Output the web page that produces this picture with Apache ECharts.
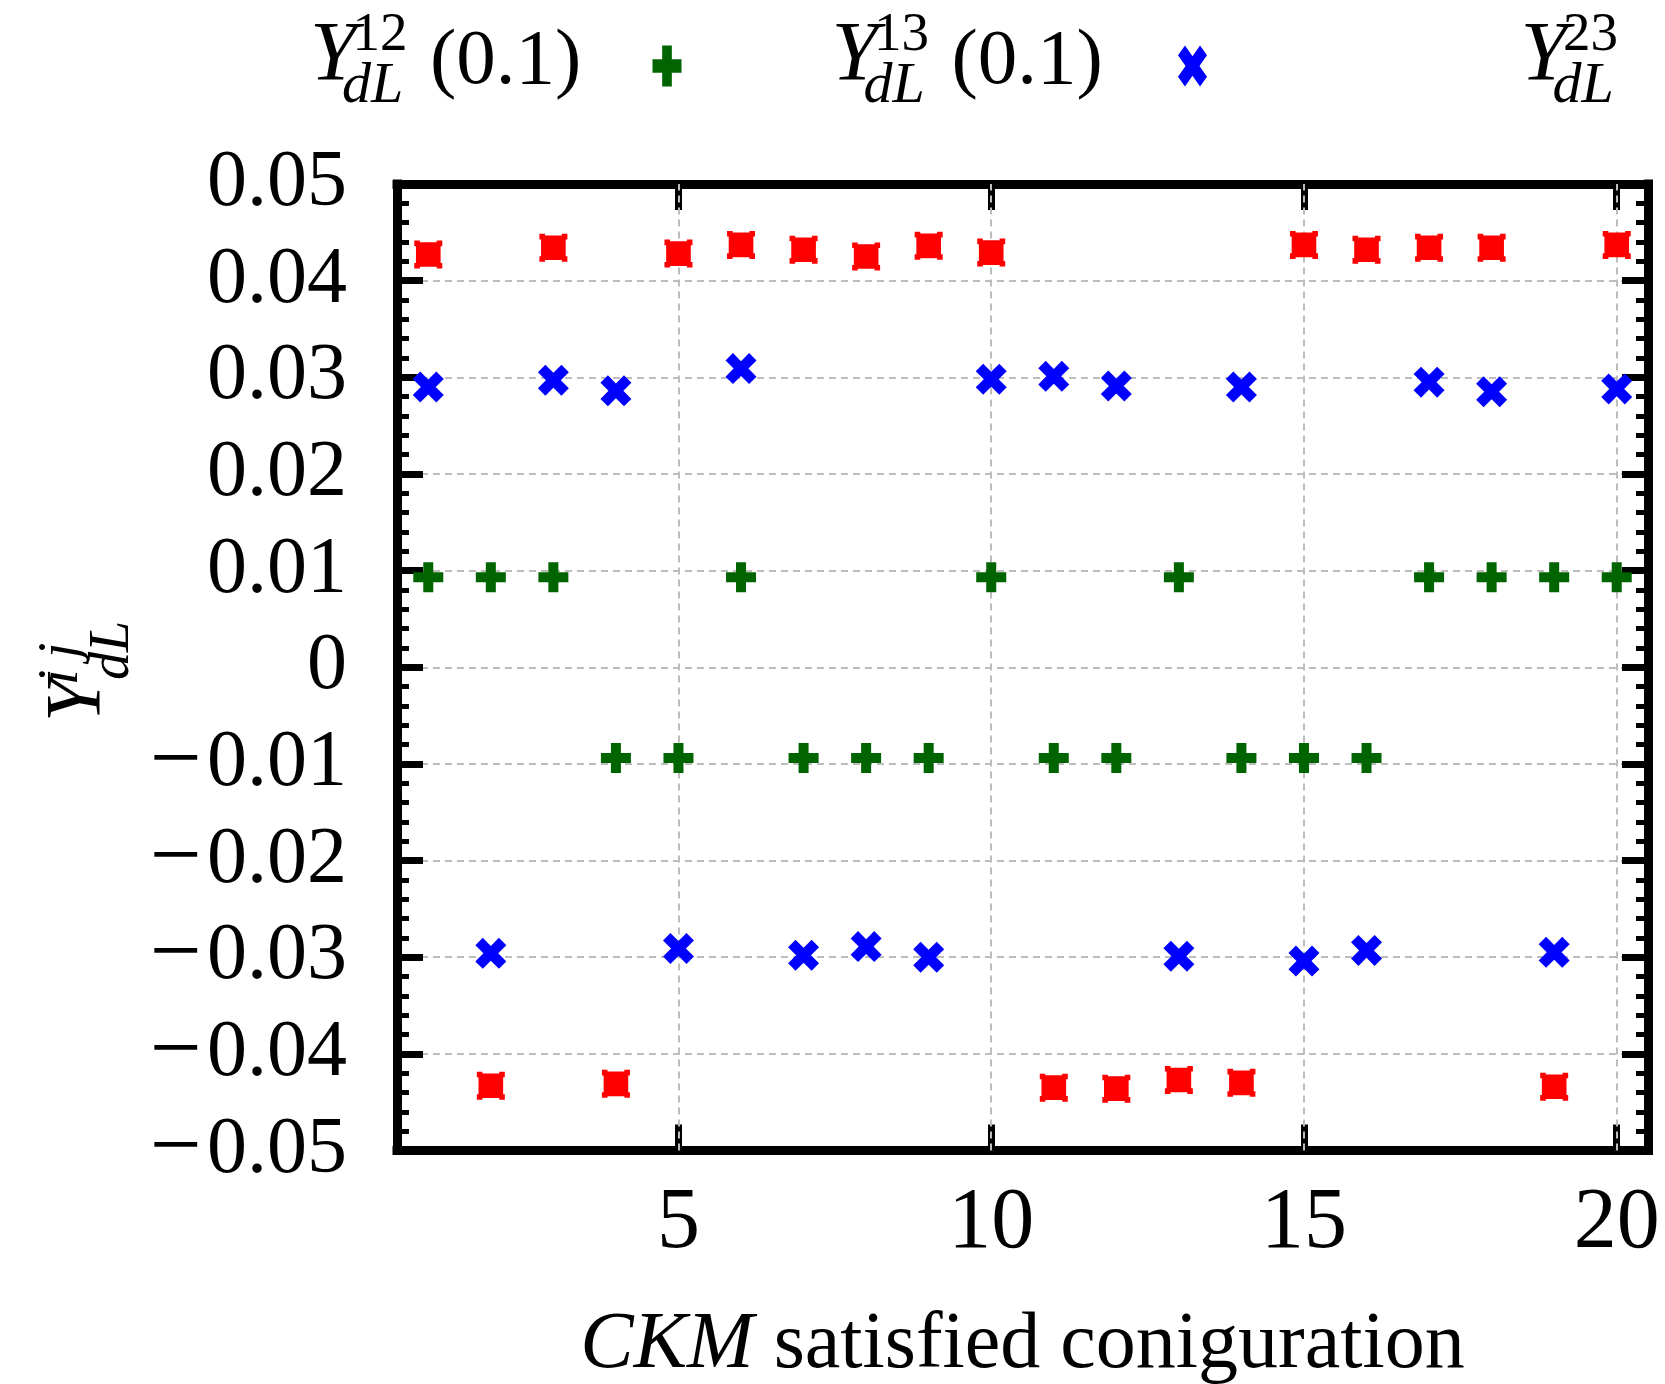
<!DOCTYPE html>
<html>
<head>
<meta charset="utf-8">
<script src="https://cdn.jsdelivr.net/npm/echarts@6/dist/echarts.min.js"></script>
<style>
html,body{margin:0;padding:0;background:#fff;}
#chart{width:1665px;height:1384px;}
</style>
</head>
<body>
<div id="chart"></div>
<script>
// ---- data ----
const configs = [1,2,3,4,5,6,7,8,9,10,11,12,13,14,15,16,17,18,19,20];
const y12 = [0.0093, 0.0093, 0.0093, -0.0094, -0.0094, 0.0093, -0.0094, -0.0094, -0.0094, 0.0093,
             -0.0094, -0.0094, 0.0093, -0.0094, -0.0094, -0.0094, 0.0093, 0.0093, 0.0093, 0.0093];
const y13 = [0.0290, -0.0296, 0.0297, 0.0286, -0.0291, 0.0309, -0.0298, -0.0289, -0.0300, 0.0298,
             0.0301, 0.0291, -0.0299, 0.0290, -0.0304, -0.0293, 0.0295, 0.0285, -0.0295, 0.0288];
const y23 = [0.0427, -0.0433, 0.0434, -0.0431, 0.0428, 0.0437, 0.0432, 0.0425, 0.0436, 0.0429,
             -0.0435, -0.0436, -0.0427, -0.0430, 0.0437, 0.0432, 0.0434, 0.0434, -0.0434, 0.0437];
const seriesNames = ['Y12 (0.1)', 'Y13 (0.1)', 'Y23'];
const xTickValues = [5, 10, 15, 20];
const xTickLabels = ['5', '10', '15', '20'];
const yMin = -0.05, yMax = 0.05, yStep = 0.01;

// ---- styling ----
const FF = "'Liberation Serif','DejaVu Serif',serif";
const GRID_COLOR = '#bdbdbd';
const PLUS = 'path://M3,0H6V3H9V6H6V9H3V6H0V3H3Z';
const CROSS = 'path://M0,2.4L2.4,0L5,2.6L7.6,0L10,2.4L7.4,5L10,7.6L7.6,10L5,7.4L2.4,10L0,7.6L2.6,5Z';
const SQUARE = 'path://M0,0H2V0.6H8V0H10V2H9.4V8H10V10H8V9.4H2V10H0V8H0.6V2H0Z';

function pairs(ys){ return configs.map((x,i)=>[x, ys[i]]); }

function fmtY(v){
  if (Math.abs(v) < 1e-9) return '0';
  return v < 0 ? '{m|\u2212}' + Math.abs(v).toFixed(2) : v.toFixed(2);
}

function txt(x, y, text, size, italic){
  return {type:'text', x:x, y:y, silent:true, style:{
    text:text, fontSize:size, fontFamily:FF, fontStyle: italic ? 'italic' : 'normal',
    fill:'#000', align:'left', textAlign:'left', verticalAlign:'middle', textVerticalAlign:'middle'
  }};
}
function legendLabel(x, y, sup, tail){
  const ch = [
    txt(0, 0, 'Y', 84, true),
    txt(42.5, -22, sup, 55, false),
    txt(32, 29, 'dL', 58, true)
  ];
  if (tail) ch.push(txt(120, 4, tail, 79, false));
  return {type:'group', x:x, y:y, children:ch};
}
function axisNameY(x, y){
  return {type:'group', x:x, y:y, rotation:Math.PI/2, children:[
    txt(0, 0, 'Y', 78, true),
    txt(37, -16, 'i\u2009j', 56, true),
    txt(42, 35, 'dL', 56, true)
  ]};
}

const axisLineStyle = {color:'#000', width:9, cap:'square'};
const legendCommon = {padding:0, itemWidth:29, itemHeight:41, symbolKeepAspect:false,
  selectedMode:false, formatter:()=> '', textStyle:{fontSize:1}};

const chart = echarts.init(document.getElementById('chart'), null, {renderer:'canvas'});
chart.setOption({
  animation:false,
  backgroundColor:'#fff',
  grid:{left:397, top:184, width:1251, height:966.5, containLabel:false, outerBoundsMode:'none'},
  legend:[
    Object.assign({data:[seriesNames[0]], left:652.5, top:45.5}, legendCommon),
    Object.assign({data:[seriesNames[1]], left:1178, top:45.5}, legendCommon)
  ],
  xAxis:[
    {type:'value', position:'bottom', min:0.5, max:20.5,
     axisLine:{show:true, onZero:false, lineStyle:axisLineStyle},
     axisTick:{show:true, inside:true, length:26, customValues:xTickValues, lineStyle:{color:'#000', width:7}},
     axisLabel:{show:true, customValues:xTickValues, margin:31, fontSize:86, fontFamily:FF, color:'#000',
       hideOverlap:false,
       formatter:(v)=>{ const i = xTickValues.indexOf(Math.round(v)); return i>=0 ? xTickLabels[i] : ''; }},
     splitLine:{show:false},
     name:'{i|CKM} satisfied coniguration', nameLocation:'middle', nameGap:155,
     nameTextStyle:{fontSize:80, fontFamily:FF, color:'#000',
       rich:{i:{fontSize:80, fontFamily:FF, fontStyle:'italic', color:'#000'}}}
    },
    {type:'value', position:'top', min:0.5, max:20.5,
     axisLine:{show:true, onZero:false, lineStyle:axisLineStyle},
     axisTick:{show:true, inside:true, length:26, customValues:xTickValues, lineStyle:{color:'#000', width:7}},
     axisLabel:{show:false}, splitLine:{show:false}
    }
  ],
  yAxis:[
    {type:'value', position:'left', min:yMin, max:yMax, interval:yStep,
     axisLine:{show:true, onZero:false, lineStyle:axisLineStyle},
     axisTick:{show:true, inside:true, length:26, lineStyle:{color:'#000', width:7}},
     minorTick:{show:true, splitNumber:5, length:12, lineStyle:{color:'#000', width:5}},
     axisLabel:{show:true, margin:50, fontSize:80, fontFamily:FF, color:'#000', formatter:fmtY,
       showMinLabel:true, showMaxLabel:true, hideOverlap:false,
       rich:{m:{fontSize:92, fontFamily:FF, color:'#000', padding:[0,5,0,0]}}},
     splitLine:{show:true, lineStyle:{color:GRID_COLOR, width:2, type:[7,5]}}
    },
    {type:'value', position:'right', min:yMin, max:yMax, interval:yStep,
     axisLine:{show:true, onZero:false, lineStyle:axisLineStyle},
     axisTick:{show:true, inside:true, length:26, lineStyle:{color:'#000', width:7}},
     minorTick:{show:true, splitNumber:5, length:12, lineStyle:{color:'#000', width:5}},
     axisLabel:{show:false}, splitLine:{show:false}
    }
  ],
  graphic:[
    legendLabel(310, 58, '12', '(0.1)'),
    legendLabel(831.5, 58, '13', '(0.1)'),
    legendLabel(1520.6, 58, '23', null),
    axisNameY(78.5, 722)
  ],
  series:[
    {type:'scatter', name:'_vgrid', data:[], z:1, silent:true,
     markLine:{silent:true, z:1, symbol:['none','none'], label:{show:false}, animation:false,
       lineStyle:{color:GRID_COLOR, width:2, type:[7,5]},
       data:xTickValues.map(v=>({xAxis:v}))}},
    {type:'scatter', name:seriesNames[0], data:pairs(y12), symbol:PLUS, symbolSize:30, z:3,
     itemStyle:{color:'#006400', opacity:1}},
    {type:'scatter', name:seriesNames[1], data:pairs(y13), symbol:CROSS, symbolSize:31, z:3,
     itemStyle:{color:'#0000ff', opacity:1}},
    {type:'scatter', name:seriesNames[2], data:pairs(y23), symbol:SQUARE, symbolSize:28, z:3,
     itemStyle:{color:'#ff0000', opacity:1}}
  ]
});
</script>
</body>
</html>
